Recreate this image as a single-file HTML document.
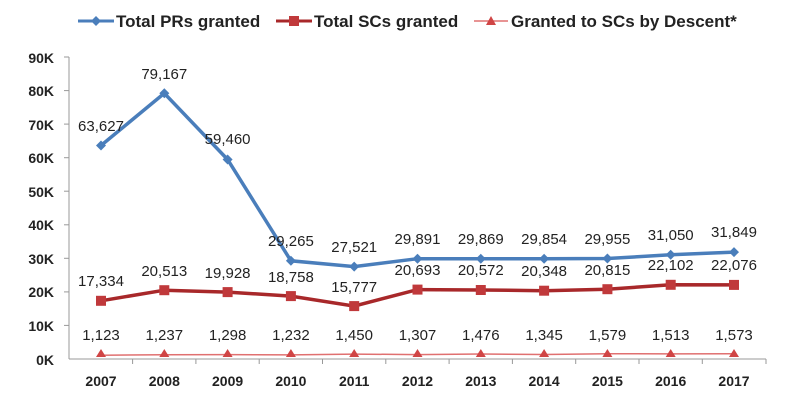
<!DOCTYPE html>
<html><head><meta charset="utf-8"><style>
html,body{margin:0;padding:0;background:#fff;}
svg{display:block;font-family:"Liberation Sans",sans-serif;}
</style></head><body>
<svg width="800" height="409" viewBox="0 0 800 409" xmlns="http://www.w3.org/2000/svg">
<!-- legend -->
<line x1="78" y1="21" x2="114" y2="21" stroke="#4a7ebb" stroke-width="3"/>
<path d="M96 16 L101 21 L96 26 L91 21Z" fill="#4a7ebb"/>
<text x="116" y="27" font-size="17" font-weight="bold" fill="#222">Total PRs granted</text>
<line x1="276" y1="21" x2="312" y2="21" stroke="#a8282a" stroke-width="3"/>
<rect x="289" y="16" width="10" height="10" fill="#c0393b"/>
<text x="314" y="27" font-size="17" font-weight="bold" fill="#222">Total SCs granted</text>
<line x1="474" y1="21" x2="508" y2="21" stroke="#e07070" stroke-width="1.5"/>
<path d="M491 16 L496 25 L486 25Z" fill="#d04545"/>
<text x="511" y="27" font-size="17" font-weight="bold" fill="#222">Granted to SCs by Descent*</text>
<!-- axes -->
<g stroke="#999" stroke-width="1">
<line x1="69" y1="57" x2="69" y2="359"/>
<line x1="69" y1="359" x2="766" y2="359"/>
<line x1="64" y1="57" x2="69" y2="57"/><line x1="64" y1="90.6" x2="69" y2="90.6"/><line x1="64" y1="124.1" x2="69" y2="124.1"/><line x1="64" y1="157.7" x2="69" y2="157.7"/><line x1="64" y1="191.2" x2="69" y2="191.2"/><line x1="64" y1="224.8" x2="69" y2="224.8"/><line x1="64" y1="258.3" x2="69" y2="258.3"/><line x1="64" y1="291.9" x2="69" y2="291.9"/><line x1="64" y1="325.4" x2="69" y2="325.4"/>
<line x1="132.6" y1="359" x2="132.6" y2="364"/><line x1="195.9" y1="359" x2="195.9" y2="364"/><line x1="259.2" y1="359" x2="259.2" y2="364"/><line x1="322.5" y1="359" x2="322.5" y2="364"/><line x1="385.8" y1="359" x2="385.8" y2="364"/><line x1="449.1" y1="359" x2="449.1" y2="364"/><line x1="512.4" y1="359" x2="512.4" y2="364"/><line x1="575.7" y1="359" x2="575.7" y2="364"/><line x1="639" y1="359" x2="639" y2="364"/><line x1="702.3" y1="359" x2="702.3" y2="364"/><line x1="766" y1="359" x2="766" y2="364"/>
</g>
<g font-size="14" font-weight="bold" fill="#222" text-anchor="end">
<text x="54" y="63">90K</text><text x="54" y="96">80K</text><text x="54" y="130">70K</text><text x="54" y="163">60K</text><text x="54" y="197">50K</text><text x="54" y="230">40K</text><text x="54" y="264">30K</text><text x="54" y="297">20K</text><text x="54" y="331">10K</text><text x="54" y="365">0K</text>
</g>
<g font-size="14" font-weight="bold" fill="#222" text-anchor="middle">
<text x="101" y="386">2007</text><text x="164.3" y="386">2008</text><text x="227.6" y="386">2009</text><text x="290.9" y="386">2010</text><text x="354.2" y="386">2011</text><text x="417.5" y="386">2012</text><text x="480.8" y="386">2013</text><text x="544.1" y="386">2014</text><text x="607.4" y="386">2015</text><text x="670.7" y="386">2016</text><text x="734" y="386">2017</text>
</g>
<!-- descent -->
<polyline fill="none" stroke="#e07070" stroke-width="1.5" points="101,355.2 164.3,354.8 227.6,354.6 290.9,354.9 354.2,354.1 417.5,354.6 480.8,354 544.1,354.5 607.4,353.7 670.7,353.9 734,353.7"/>
<g fill="#d04545">
<path d="M101 349l5 8h-10z"/><path d="M164.3 349l5 8h-10z"/><path d="M227.6 349l5 8h-10z"/><path d="M290.9 349l5 8h-10z"/><path d="M354.2 349l5 8h-10z"/><path d="M417.5 349l5 8h-10z"/><path d="M480.8 349l5 8h-10z"/><path d="M544.1 349l5 8h-10z"/><path d="M607.4 349l5 8h-10z"/><path d="M670.7 349l5 8h-10z"/><path d="M734 349l5 8h-10z"/>
</g>
<!-- SCs -->
<polyline fill="none" stroke="#a8282a" stroke-width="3.5" points="101,300.8 164.3,290.2 227.6,292.1 290.9,296.1 354.2,306.1 417.5,289.6 480.8,290 544.1,290.7 607.4,289.2 670.7,284.8 734,284.9"/>
<g fill="#c0393b">
<rect x="96" y="295.8" width="10" height="10"/><rect x="159.3" y="285.2" width="10" height="10"/><rect x="222.6" y="287.1" width="10" height="10"/><rect x="285.9" y="291.1" width="10" height="10"/><rect x="349.2" y="301.1" width="10" height="10"/><rect x="412.5" y="284.6" width="10" height="10"/><rect x="475.8" y="285" width="10" height="10"/><rect x="539.1" y="285.7" width="10" height="10"/><rect x="602.4" y="284.2" width="10" height="10"/><rect x="665.7" y="279.8" width="10" height="10"/><rect x="729" y="279.9" width="10" height="10"/>
</g>
<!-- PRs -->
<polyline fill="none" stroke="#4a7ebb" stroke-width="3.5" points="101,145.5 164.3,93.3 227.6,159.5 290.9,260.8 354.2,266.6 417.5,258.7 480.8,258.8 544.1,258.8 607.4,258.5 670.7,254.8 734,252.1"/>
<g fill="#4a7ebb">
<path d="M101 140.5l5 5-5 5-5-5z"/><path d="M164.3 88.3l5 5-5 5-5-5z"/><path d="M227.6 154.5l5 5-5 5-5-5z"/><path d="M290.9 255.8l5 5-5 5-5-5z"/><path d="M354.2 261.6l5 5-5 5-5-5z"/><path d="M417.5 253.7l5 5-5 5-5-5z"/><path d="M480.8 253.8l5 5-5 5-5-5z"/><path d="M544.1 253.8l5 5-5 5-5-5z"/><path d="M607.4 253.5l5 5-5 5-5-5z"/><path d="M670.7 249.8l5 5-5 5-5-5z"/><path d="M734 247.1l5 5-5 5-5-5z"/>
</g>
<!-- data labels -->
<g font-size="15" fill="#222" text-anchor="middle">
<text x="101" y="131">63,627</text><text x="164.3" y="79">79,167</text><text x="227.6" y="144">59,460</text><text x="290.9" y="246">29,265</text><text x="354.2" y="252">27,521</text><text x="417.5" y="244">29,891</text><text x="480.8" y="244">29,869</text><text x="544.1" y="244">29,854</text><text x="607.4" y="244">29,955</text><text x="670.7" y="240">31,050</text><text x="734" y="237">31,849</text>
<text x="101" y="286">17,334</text><text x="164.3" y="276">20,513</text><text x="227.6" y="278">19,928</text><text x="290.9" y="282">18,758</text><text x="354.2" y="292">15,777</text><text x="417.5" y="275">20,693</text><text x="480.8" y="275">20,572</text><text x="544.1" y="276">20,348</text><text x="607.4" y="275">20,815</text><text x="670.7" y="270">22,102</text><text x="734" y="270">22,076</text>
<text x="101" y="340">1,123</text><text x="164.3" y="340">1,237</text><text x="227.6" y="340">1,298</text><text x="290.9" y="340">1,232</text><text x="354.2" y="340">1,450</text><text x="417.5" y="340">1,307</text><text x="480.8" y="340">1,476</text><text x="544.1" y="340">1,345</text><text x="607.4" y="340">1,579</text><text x="670.7" y="340">1,513</text><text x="734" y="340">1,573</text>
</g>
</svg>
</body></html>
